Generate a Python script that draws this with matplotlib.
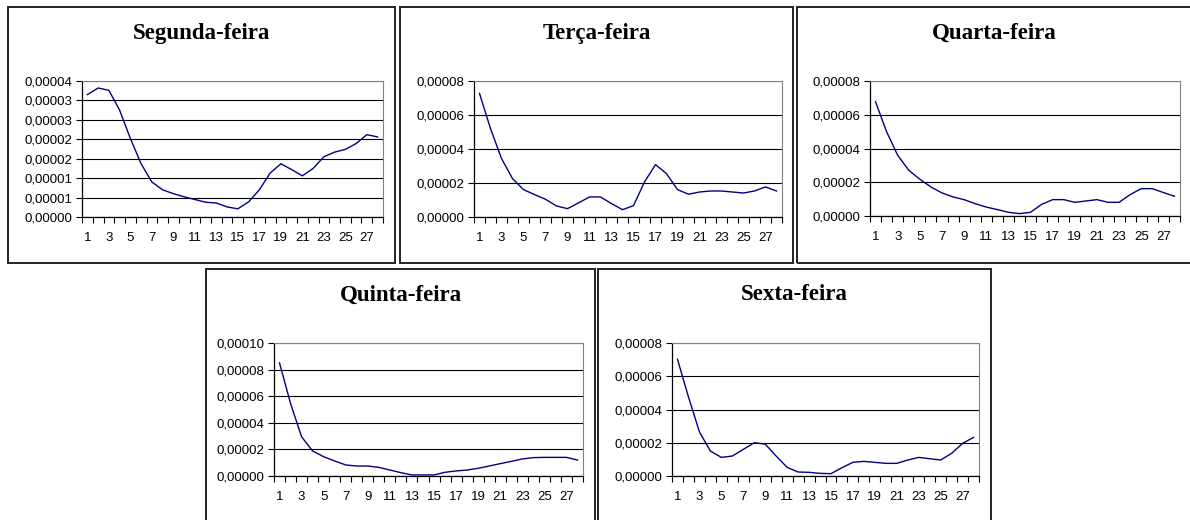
import matplotlib
matplotlib.use("Agg")
import matplotlib.pyplot as plt
from matplotlib.patches import Rectangle
from matplotlib.ticker import FuncFormatter, MultipleLocator
import numpy as np

# dias do mes (eixo x)
dias = list(range(1, 29))

# valores
segunda = [3.15e-5, 3.32e-5, 3.26e-5, 2.75e-5, 2.02e-5, 1.37e-5, 0.90e-5, 0.70e-5,
           0.60e-5, 0.52e-5, 0.45e-5, 0.38e-5, 0.36e-5, 0.26e-5, 0.21e-5, 0.39e-5,
           0.70e-5, 1.13e-5, 1.37e-5, 1.22e-5, 1.06e-5, 1.25e-5, 1.55e-5, 1.67e-5,
           1.74e-5, 1.89e-5, 2.12e-5, 2.06e-5]
terca = [7.27e-5, 5.20e-5, 3.44e-5, 2.26e-5, 1.61e-5, 1.32e-5, 1.04e-5, 0.65e-5,
         0.49e-5, 0.83e-5, 1.18e-5, 1.18e-5, 0.79e-5, 0.43e-5, 0.67e-5, 2.06e-5,
         3.08e-5, 2.55e-5, 1.61e-5, 1.34e-5, 1.47e-5, 1.53e-5, 1.53e-5, 1.47e-5,
         1.41e-5, 1.53e-5, 1.77e-5, 1.53e-5]
quarta = [6.77e-5, 4.99e-5, 3.60e-5, 2.71e-5, 2.18e-5, 1.72e-5, 1.37e-5, 1.13e-5,
          0.97e-5, 0.73e-5, 0.53e-5, 0.38e-5, 0.22e-5, 0.14e-5, 0.22e-5, 0.69e-5,
          0.97e-5, 0.97e-5, 0.81e-5, 0.89e-5, 0.97e-5, 0.81e-5, 0.81e-5, 1.27e-5,
          1.62e-5, 1.62e-5, 1.39e-5, 1.17e-5]
quinta = [8.50e-5, 5.45e-5, 2.95e-5, 1.88e-5, 1.45e-5, 1.13e-5, 0.83e-5, 0.75e-5,
          0.75e-5, 0.65e-5, 0.45e-5, 0.25e-5, 0.08e-5, 0.08e-5, 0.08e-5, 0.28e-5,
          0.38e-5, 0.45e-5, 0.58e-5, 0.75e-5, 0.93e-5, 1.10e-5, 1.28e-5, 1.38e-5,
          1.40e-5, 1.40e-5, 1.40e-5, 1.20e-5]
sexta = [7.02e-5, 4.76e-5, 2.66e-5, 1.50e-5, 1.12e-5, 1.20e-5, 1.60e-5, 2.00e-5,
         1.92e-5, 1.20e-5, 0.52e-5, 0.24e-5, 0.22e-5, 0.16e-5, 0.14e-5, 0.50e-5,
         0.82e-5, 0.88e-5, 0.82e-5, 0.76e-5, 0.76e-5, 0.96e-5, 1.12e-5, 1.04e-5,
         0.96e-5, 1.36e-5, 1.96e-5, 2.32e-5]

titulos = ["Segunda-feira", "Terça-feira", "Quarta-feira", "Quinta-feira", "Sexta-feira"]
series = [segunda, terca, quarta, quinta, sexta]
ymax = [3.5e-5, 8e-5, 8e-5, 1e-4, 8e-5]
ypasso = [5e-6, 2e-5, 2e-5, 2e-5, 2e-5]

W, H = 1190, 520
# caixa do painel e area do grafico em pixels (x0, y0, x1, y1), y de cima
paineis = [(8, 7, 395, 263), (400, 7, 793, 263), (797, 7, 1192, 263),
           (206, 269, 595, 530), (598, 269, 991, 530)]
areas = [(82, 81, 383, 217), (474, 81, 782, 217), (870, 81, 1180, 216),
         (274, 343, 583, 476), (672, 343, 979, 476)]
titulo_y = [33, 33, 33, 295, 295]


def rotulo(v, pos):
    n = int(v * 1e5 + 0.5 + 1e-6)
    return "0,%05d" % n


fig = plt.figure(figsize=(W / 100, H / 100), dpi=100)

for i in range(5):
    x0, y0, x1, y1 = paineis[i]
    fig.patches.append(Rectangle((x0 / W, 1 - y1 / H), (x1 - x0) / W, (y1 - y0) / H,
                                 transform=fig.transFigure, fill=False,
                                 edgecolor="#222222", linewidth=1.4, zorder=0))
    fig.text((x0 + x1) / 2 / W, 1 - titulo_y[i] / H, titulos[i], ha="center", va="center",
             family="Liberation Serif", fontweight="bold", fontsize=16.5)

    a0, b0, a1, b1 = areas[i]
    ax = fig.add_axes([a0 / W, 1 - b1 / H, (a1 - a0) / W, (b1 - b0) / H])
    ax.plot(dias, series[i], color="#000080", linewidth=1.0)
    ax.set_xlim(0.5, 28.5)
    ax.set_ylim(0, ymax[i])
    ax.set_xticks(dias[::2])
    ax.xaxis.set_minor_locator(MultipleLocator(1, offset=0.5))
    ax.yaxis.set_major_locator(MultipleLocator(ypasso[i]))
    ax.yaxis.set_major_formatter(FuncFormatter(rotulo))
    ax.grid(axis="y", color="black", linewidth=0.8)
    ax.set_axisbelow(True)
    ax.tick_params(axis="x", which="major", length=0, pad=11)
    ax.tick_params(axis="x", which="minor", length=4, width=0.8, direction="out")
    ax.tick_params(axis="y", length=4, width=0.8, direction="out", pad=3)
    for lab in ax.get_xticklabels() + ax.get_yticklabels():
        lab.set_family("Liberation Sans")
        lab.set_fontsize(9.5)
    for s in ["top", "right"]:
        ax.spines[s].set_color("#808080")
    for s in ["left", "bottom"]:
        ax.spines[s].set_color("black")
        ax.spines[s].set_linewidth(0.9)

fig.savefig("out.png", dpi=100)
